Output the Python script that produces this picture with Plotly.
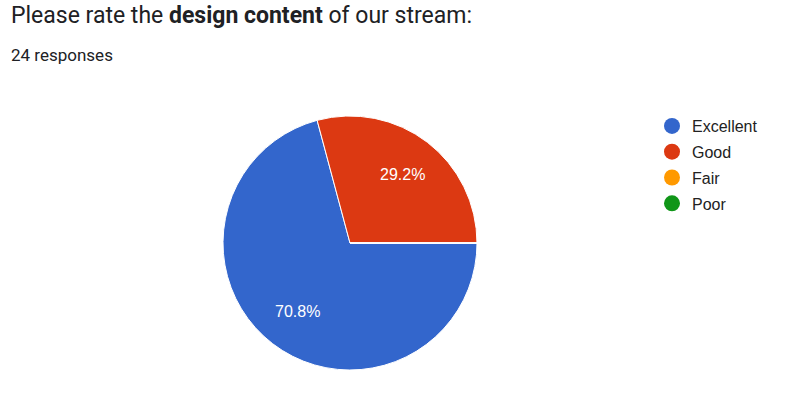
import math
import plotly.graph_objects as go

categories = ["Excellent", "Good", "Fair", "Poor"]
counts = [17, 7, 0, 0]
colors = ["#3366cc", "#dc3912", "#ff9900", "#109618"]
title_text = "Please rate the <b>design content</b> of our stream:"
subtitle_text = "24 responses"

W, H = 799, 408
CX, CY, R = 350, 243, 127      # pie centre and radius in pixels
START = 90                     # first slice starts at 3 o'clock, clockwise
LABEL_R = 0.68

fig = go.Figure()
fig.add_trace(go.Pie(
    labels=categories,
    values=counts,
    sort=False,
    direction="clockwise",
    rotation=START,
    marker=dict(colors=colors, line=dict(color="white", width=1)),
    textinfo="none",
    hoverinfo="label+percent",
    showlegend=False,
    domain=dict(x=[(CX - R) / W, (CX + R) / W], y=[(H - CY - R) / H, (H - CY + R) / H]),
))

# percentage labels, placed at each slice's mid-angle
total = sum(counts)
cum = 0.0
for n in counts:
    frac = n / total
    if n > 0:
        ang = math.radians(START + 360 * (cum + frac / 2))
        px = CX + LABEL_R * R * math.sin(ang)
        py = CY - LABEL_R * R * math.cos(ang)
        fig.add_annotation(text=f"{frac * 100:.1f}%", xref="paper", yref="paper",
                           x=px / W, y=1 - py / H, xanchor="center", yanchor="middle",
                           showarrow=False,
                           font=dict(family="Arial, Liberation Sans", size=16, color="white"))
    cum += frac

for name, col in zip(categories, colors):
    fig.add_trace(go.Scatter(
        x=[None], y=[None], mode="markers", name=name, legendgroup=name,
        marker=dict(size=16, color=col), showlegend=True,
    ))

fig.add_annotation(text=title_text, xref="paper", yref="paper", x=9 / W, y=1 - 0 / H,
                   xanchor="left", yanchor="top", showarrow=False,
                   font=dict(family="Roboto", size=23, color="#202124"))
fig.add_annotation(text=subtitle_text, xref="paper", yref="paper", x=9 / W, y=1 - 43 / H,
                   xanchor="left", yanchor="top", showarrow=False,
                   font=dict(family="Roboto", size=17, color="#202124"))

fig.update_layout(
    width=W, height=H,
    margin=dict(l=0, r=0, t=0, b=0),
    paper_bgcolor="white", plot_bgcolor="white",
    xaxis=dict(visible=False), yaxis=dict(visible=False),
    legend=dict(x=652 / W, y=1 - 109 / H, xanchor="left", yanchor="top",
                font=dict(family="Arial, Liberation Sans", size=16, color="#222222"),
                traceorder="grouped", tracegroupgap=2, bgcolor="rgba(0,0,0,0)"),
)

fig.write_html("out.html")
